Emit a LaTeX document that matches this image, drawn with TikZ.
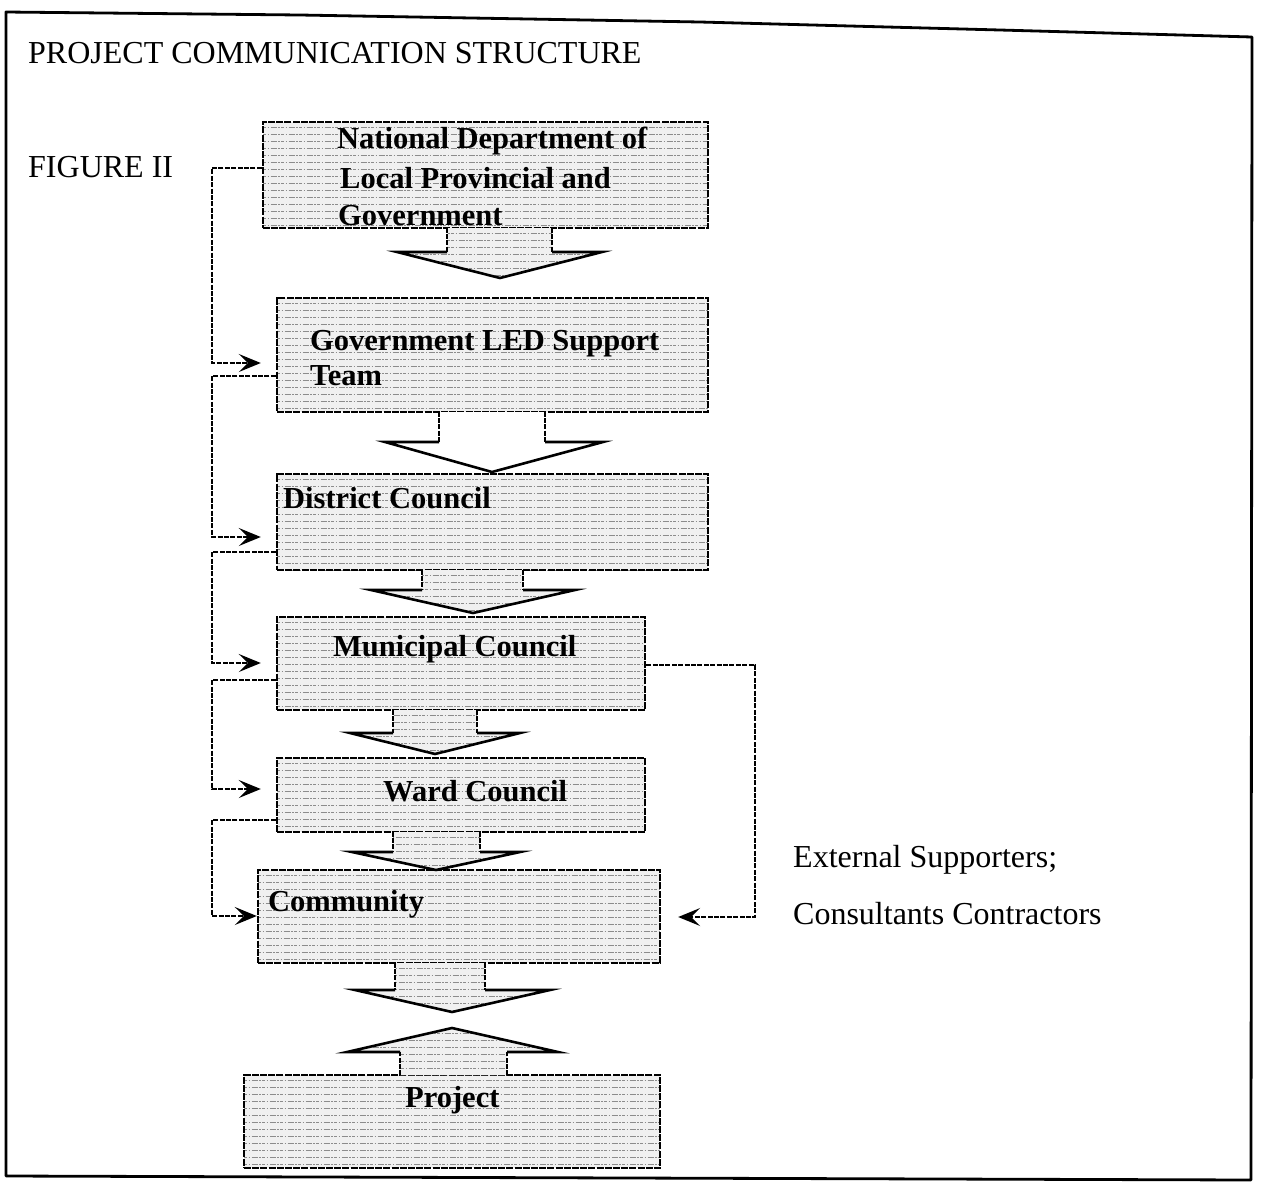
\documentclass[tikz,border=0pt]{standalone}
\usepackage{fontspec}
\setmainfont{Liberation Serif}
\usetikzlibrary{arrows.meta,calc}
\tikzset{
  texline/.style={black!45, line width=1pt, dash pattern=on 3pt off 1.5pt on 1pt off 2pt on 6pt off 1.5pt on 2pt off 1pt},
  textured/.style={path picture={\foreach \k in {1,...,17}{\draw[texline] ([yshift=-\k*7pt+2pt]path picture bounding box.north west) -- ([yshift=-\k*7pt+2pt]path picture bounding box.north east);}}},
  dbox/.style={draw=black, line width=2.4pt, dash pattern=on 7pt off 1.2pt, fill=black!6, inner sep=0pt, textured},
  boxlabel/.style={font=\fontsize{30.5}{35}\selectfont\bfseries, inner sep=0pt, anchor=base west},
  plain/.style={font=\fontsize{32}{36}\selectfont, inner sep=0pt, anchor=base west},
  afill/.style={fill=black!6},
  ashaft/.style={line width=2pt, dash pattern=on 5pt off 1.2pt},
  ahead/.style={line width=2.6pt, line join=miter},
  conn/.style={draw, line width=2.2pt, dash pattern=on 5pt off 1.4pt, shorten >=15pt, -{Stealth[length=22pt,width=18pt,inset=9pt]}},
  rconn/.style={draw, line width=1.6pt, dash pattern=on 5pt off 1.4pt, shorten >=17pt, -{Stealth[length=22pt,width=18pt,inset=9pt]}}
}
\begin{document}
\begin{tikzpicture}[x=1pt,y=-1pt]
\useasboundingbox (0,0) rectangle (1262,1192);
% outer frame
\draw[line width=2.8pt, line join=round] (6,12) -- (300,15) -- (700,22) -- (1000,30) -- (1252,37) -- (1251,1180) -- (6,1176) -- cycle;

% headings
\node[plain] (title) at (28,63) {PROJECT COMMUNICATION STRUCTURE};
\node[plain] (fig) at (28,177) {FIGURE II};

% boxes
\node[dbox, minimum width=445pt, minimum height=106pt] (b1) at (485.5,175) {};
\node[dbox, minimum width=431pt, minimum height=114pt] (b2) at (492.5,355) {};
\node[dbox, minimum width=431pt, minimum height=96pt] (b3) at (492.5,522) {};
\node[dbox, minimum width=368pt, minimum height=93pt] (b4) at (461,663.5) {};
\node[dbox, minimum width=368pt, minimum height=74pt] (b5) at (461,795) {};
\node[dbox, minimum width=402pt, minimum height=93pt] (b6) at (459,916.5) {};
\node[dbox, minimum width=416pt, minimum height=93pt] (b7) at (452,1121.5) {};

% block arrows (down)
\foreach \sl/\sr/\ty/\hy/\hl/\hr/\tx/\tipy/\tex in {447/552/228/252/397/602/500/278/1, 439/545/412/442/385/603/492/472/0, 422/523/570/590/371/575/473/613/1, 393/477/710/733/350/520/435/754/1, 393/480/832/852/352/520/436/870/1, 395/485/963/990/355/550/452/1012/1}{
  \ifnum\tex=1
    \path[afill, textured] (\sl,\ty) -- (\sl,\hy) -- (\hl,\hy) -- (\tx,\tipy) -- (\hr,\hy) -- (\sr,\hy) -- (\sr,\ty) -- cycle;
  \else
    \path[fill=white] (\sl,\ty) -- (\sl,\hy) -- (\hl,\hy) -- (\tx,\tipy) -- (\hr,\hy) -- (\sr,\hy) -- (\sr,\ty) -- cycle;
  \fi
  \draw[ashaft] (\sl,\ty) -- (\sl,\hy);
  \draw[ashaft] (\sr,\ty) -- (\sr,\hy);
  \draw[ahead] (\sl,\hy) -- (\hl,\hy) -- (\tx,\tipy) -- (\hr,\hy) -- (\sr,\hy);
}
% block arrow (up, from project)
\path[afill, textured] (400,1075) -- (400,1052) -- (347,1052) -- (452,1028) -- (558,1052) -- (507,1052) -- (507,1075) -- cycle;
\draw[ashaft] (400,1075) -- (400,1052);
\draw[ashaft] (507,1075) -- (507,1052);
\draw[ahead] (400,1052) -- (347,1052) -- (452,1028) -- (558,1052) -- (507,1052);

% box labels
\node[boxlabel] (t1a) at (337,148) {National Department of};
\node[boxlabel] (t1b) at (340,188) {Local Provincial and};
\node[boxlabel] (t1c) at (338,225) {Government};
\node[boxlabel] (t2a) at (310,350) {Government LED Support};
\node[boxlabel] (t2b) at (310,385) {Team};
\node[boxlabel] (t3) at (283,508) {District Council};
\node[boxlabel] (t4) at (333,656) {Municipal Council};
\node[boxlabel] (t5) at (383,801) {Ward Council};
\node[boxlabel] (t6) at (268,911) {Community};
\node[boxlabel] (t7) at (405,1107) {Project};

% left connectors
\coordinate (L1a) at (212,168); \coordinate (L1b) at (212,363);
\coordinate (L2a) at (212,376); \coordinate (L2b) at (212,537);
\coordinate (L3a) at (212,552); \coordinate (L3b) at (212,663);
\coordinate (L4a) at (212,680); \coordinate (L4b) at (212,789);
\coordinate (L5a) at (212,820); \coordinate (L5b) at (212,916);
\draw[conn] (b1.west |- L1a) -- (L1a) -- (L1b) -- (b2.west |- L1b);
\draw[conn] (b2.west |- L2a) -- (L2a) -- (L2b) -- (b3.west |- L2b);
\draw[conn] (b3.west |- L3a) -- (L3a) -- (L3b) -- (b4.west |- L3b);
\draw[conn] (b4.west |- L4a) -- (L4a) -- (L4b) -- (b5.west |- L4b);
\draw[conn, shorten >=0pt] (b5.west |- L5a) -- (L5a) -- (L5b) -- (b6.west |- L5b);

% right connector (external supporters)
\coordinate (R1) at (755,665); \coordinate (R2) at (755,917);
\draw[rconn] (b4.east |- R1) -- (R1) -- (R2) -- (b6.east |- R2);

\node[plain] (ext1) at (793,867) {External Supporters;};
\node[plain] (ext2) at (793,924) {Consultants Contractors};
\end{tikzpicture}
\end{document}
